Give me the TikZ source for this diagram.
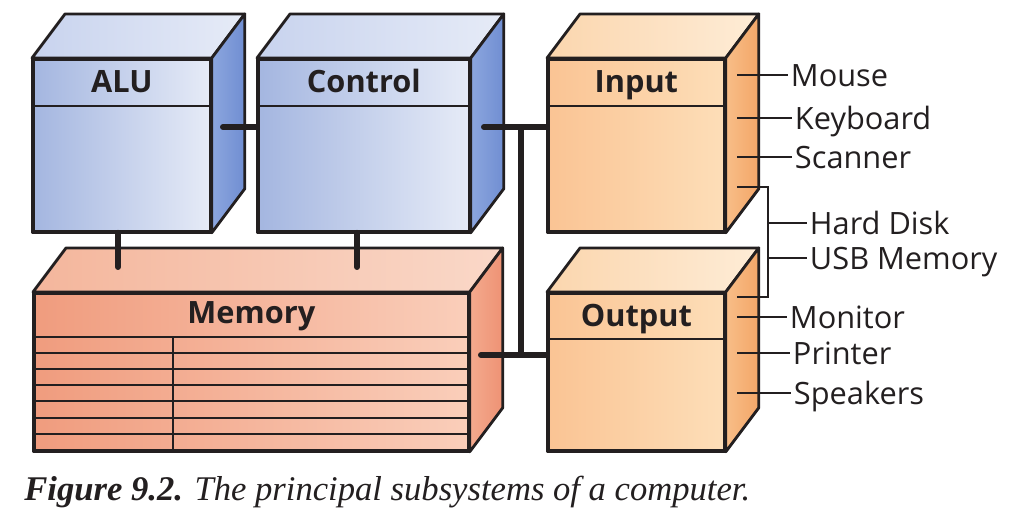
\documentclass[tikz,border=0pt]{standalone}
\usepackage{fontspec}
\setsansfont{Open Sans}
\setmainfont{Liberation Serif}
\definecolor{ink}{RGB}{35,31,32}
\definecolor{blueL}{RGB}{164,182,224}
\definecolor{blueR}{RGB}{230,235,247}
\definecolor{blueTopL}{RGB}{200,211,238}
\definecolor{blueTopR}{RGB}{230,235,247}
\definecolor{blueSideL}{RGB}{140,166,222}
\definecolor{blueSideR}{RGB}{112,142,210}
\definecolor{salL}{RGB}{240,156,126}
\definecolor{salR}{RGB}{250,206,186}
\definecolor{salTopL}{RGB}{244,182,156}
\definecolor{salTopR}{RGB}{250,216,200}
\definecolor{salSideL}{RGB}{244,170,142}
\definecolor{salSideR}{RGB}{238,146,116}
\definecolor{orgL}{RGB}{250,196,148}
\definecolor{orgR}{RGB}{253,222,184}
\definecolor{orgTopL}{RGB}{251,214,174}
\definecolor{orgTopR}{RGB}{254,236,214}
\definecolor{orgSideL}{RGB}{248,190,136}
\definecolor{orgSideR}{RGB}{243,166,104}
\newcommand\boxfaces[2]{%
  \draw[ln, left color=#2TopL, right color=#2TopR] (#1.north west) -- ++(33,-44) -- ([shift={(33,-44)}]#1.north east) -- (#1.north east) -- cycle;
  \draw[ln, left color=#2SideL, right color=#2SideR] (#1.north east) -- ++(33,-44) -- ([shift={(33,-44)}]#1.south east) -- (#1.south east) -- cycle;
  \draw[ln] (#1.north west) rectangle (#1.south east);
}
\begin{document}
\begin{tikzpicture}[x=0.02cm,y=-0.02cm,
  ln/.style={draw=ink, line width=1.6pt, line join=round},
  front/.style={ln, rectangle, inner sep=0pt, anchor=north west},
  rowline/.style={draw=ink, line width=1.4pt},
  bus/.style={draw=ink, line width=3.4pt, line cap=round},
  thinline/.style={draw=ink, line width=1pt},
  head/.style={font=\sffamily\bfseries\fontsize{17.5}{20}\selectfont, text=ink, inner sep=0pt, anchor=base},
  lab/.style={font=\sffamily\fontsize{17.5}{20}\selectfont, text=ink, inner xsep=1.5pt, inner ysep=0pt, anchor=base west},
]
\useasboundingbox[fill=white] (0,0) rectangle (1024,521);

% ---------- boxes ----------
\node[front, minimum width=3.54cm, minimum height=3.44cm, left color=blueL, right color=blueR] (alu) at (32,58) {};
\boxfaces{alu}{blue}
\draw[ln] ([yshift=-0.96cm]alu.north west) -- ([yshift=-0.96cm]alu.north east);
\node[head] (aluT) at ([yshift=-0.7cm]alu.north) {ALU};

\node[front, minimum width=4.22cm, minimum height=3.44cm, left color=blueL, right color=blueR] (ctl) at (257,58) {};
\boxfaces{ctl}{blue}
\draw[ln] ([yshift=-0.96cm]ctl.north west) -- ([yshift=-0.96cm]ctl.north east);
\node[head] (ctlT) at ([yshift=-0.7cm]ctl.north) {Control};

\node[front, minimum width=3.52cm, minimum height=3.44cm, left color=orgL, right color=orgR] (inp) at (547,58) {};
\boxfaces{inp}{org}
\draw[ln] ([yshift=-0.96cm]inp.north west) -- ([yshift=-0.96cm]inp.north east);
\node[head] (inpT) at ([yshift=-0.7cm]inp.north) {Input};

\node[front, minimum width=3.52cm, minimum height=3.14cm, left color=orgL, right color=orgR] (outp) at (547,292) {};
\boxfaces{outp}{org}
\draw[ln] ([yshift=-0.94cm]outp.north west) -- ([yshift=-0.94cm]outp.north east);
\node[head] (outT) at ([yshift=-0.7cm]outp.north) {Output};

\node[front, minimum width=8.68cm, minimum height=3.14cm, left color=salL, right color=salR] (mem) at (33,292) {};
\boxfaces{mem}{sal}
\draw[ln] ([yshift=-0.9cm]mem.north west) -- ([yshift=-0.9cm]mem.north east);
\node[head] (memT) at ([yshift=-0.64cm]mem.north) {Memory};
\foreach \yy in {353,369,385,401,418,434}
  \draw[rowline] (mem.west |- 0,\yy) -- (mem.east |- 0,\yy);
\draw[rowline] (173,337) -- (mem.south -| 173,0);

% ---------- connectors ----------
\coordinate (ac) at (223,127);
\draw[bus] (ac) -- (ctl.west |- ac);
\coordinate (am) at (118,267);
\draw[bus] (am |- alu.south) -- (am);
\coordinate (cm) at (357,267);
\draw[bus] (cm |- ctl.south) -- (cm);
\coordinate (ci) at (484,127);
\coordinate (bt) at (521,127);
\coordinate (bb) at (521,355);
\coordinate (mo) at (481,355);
\draw[bus] (ci) -- (inp.west |- ci);
\draw[bus] (bt) -- (bb);
\draw[bus] (mo) -- (outp.west |- mo);

% ---------- device labels ----------
\node[lab] (mouse) at (788,86) {Mouse};
\node[lab] (kbd) at (792,129) {Keyboard};
\node[lab] (scan) at (792,168) {Scanner};
\node[lab] (hdisk) at (807,234) {Hard Disk};
\node[lab] (usb) at (807,269) {USB Memory};
\node[lab] (mon) at (787,328) {Monitor};
\node[lab] (prn) at (790,364) {Printer};
\node[lab] (spk) at (791,404) {Speakers};

\coordinate (p1) at (737,75);
\coordinate (p2) at (737,118);
\coordinate (p3) at (737,157);
\coordinate (p4) at (737,187);
\coordinate (q4) at (768,187);
\coordinate (q5) at (768,297);
\coordinate (p5) at (737,297);
\coordinate (b1) at (768,223);
\coordinate (b2) at (768,258);
\coordinate (o1) at (737,317);
\coordinate (o2) at (737,353);
\coordinate (o3) at (737,393);
\draw[thinline] (p1) -- (mouse.west |- p1);
\draw[thinline] (p2) -- (kbd.west |- p2);
\draw[thinline] (p3) -- (scan.west |- p3);
\draw[thinline] (p4) -- (q4) -- (q5) -- (p5);
\draw[thinline] (b1) -- (hdisk.west |- b1);
\draw[thinline] (b2) -- (usb.west |- b2);
\draw[thinline] (o1) -- (mon.west |- o1);
\draw[thinline] (o2) -- (prn.west |- o2);
\draw[thinline] (o3) -- (spk.west |- o3);

% ---------- caption ----------
\node[anchor=base west, inner sep=0pt, text=ink, font=\fontsize{19.7}{23}\selectfont] (cap) at (24,500)
  {\textbf{\textit{Figure 9.2.}} \textit{The principal subsystems of a computer.}};
\end{tikzpicture}
\end{document}
